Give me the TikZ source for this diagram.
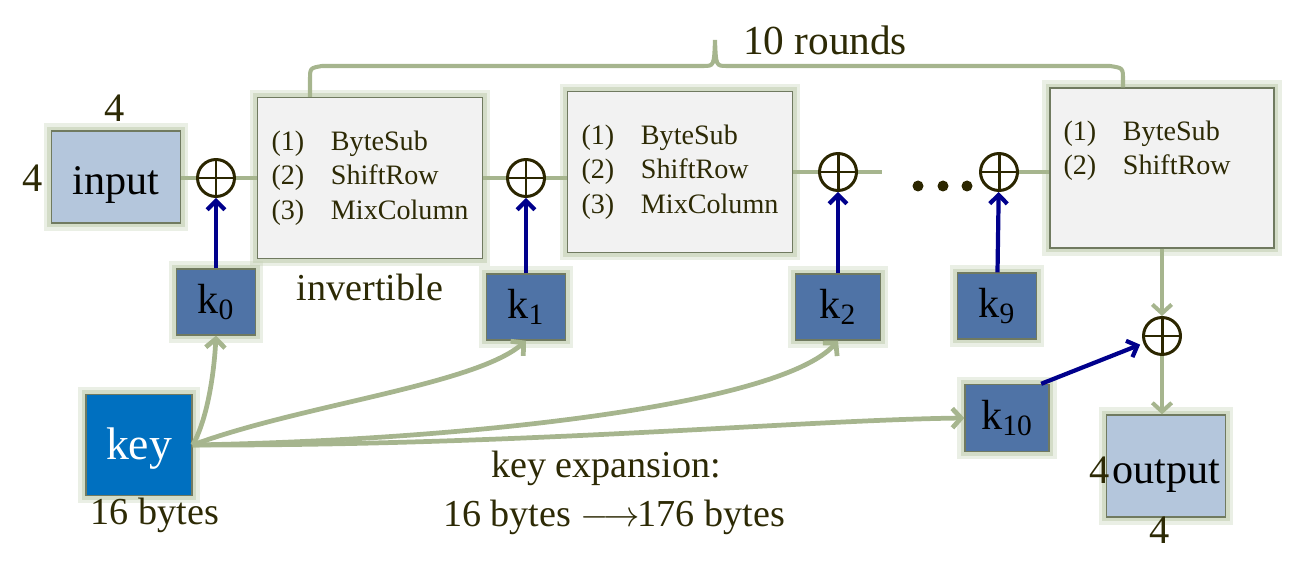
\documentclass[tikz,border=0pt]{standalone}
\usepackage{fontspec}
\setmainfont{Liberation Serif}
\usetikzlibrary{arrows.meta,calc}
\definecolor{sage}{RGB}{166,181,142}
\definecolor{glowc}{RGB}{196,208,180}
\definecolor{boxline}{RGB}{112,122,96}
\definecolor{inputfill}{RGB}{180,198,220}
\definecolor{kfill}{RGB}{79,115,166}
\definecolor{keyfill}{RGB}{0,112,192}
\definecolor{roundfill}{RGB}{242,242,242}
\definecolor{xorc}{RGB}{43,38,0}
\definecolor{textc}{RGB}{45,42,5}
\definecolor{navy}{RGB}{0,0,140}

\begin{document}
\begin{tikzpicture}[x=0.02cm, y=-0.02cm, big/.style={font=\fontsize{21.7}{26}\selectfont}]
		% Define styles
		\tikzstyle{glow}=[preaction={draw=glowc, line width=9pt, opacity=0.35}, preaction={draw=glowc, line width=5pt, opacity=0.6}]
		\tikzstyle{state}=[draw=boxline, line width=0.8pt, fill=inputfill, glow, inner sep=0pt, text height=20pt, text depth=0pt, font=\fontsize{24}{28}\selectfont]
		\tikzstyle{roundbox}=[draw=boxline, line width=0.8pt, fill=roundfill, glow, minimum width=4.5cm, minimum height=3.22cm, inner sep=0pt, text=textc, font=\fontsize{16}{19.5}\selectfont]
		\tikzstyle{subkey}=[draw=boxline, line width=0.8pt, fill=kfill, glow, minimum width=1.58cm, minimum height=1.32cm, inner sep=0pt, font=\fontsize{24}{28}\selectfont]
		\tikzstyle{xor}=[circle, draw=xorc, line width=1.7pt, minimum size=0.74cm, inner sep=0pt, path picture={\draw[xorc, line width=1.7pt] (path picture bounding box.north) -- (path picture bounding box.south) (path picture bounding box.west) -- (path picture bounding box.east);}]
		\tikzstyle{flow}=[draw=sage, line width=2.3pt]
		\tikzstyle{keyflow}=[draw=sage, line width=2.7pt, -{Straight Barb[length=5pt,width=11pt]}]
		\tikzstyle{feed}=[draw=navy, line width=2.4pt, -{Straight Barb[length=5pt,width=10pt]}]
		\tikzstyle{note}=[text=textc, big]
		
		\useasboundingbox (0,0) rectangle (1292,574);
		
		% Input and first key addition
		\node[state, minimum width=2.58cm, minimum height=1.84cm] (input) at (116,177) {input};
		\node[note, font=\fontsize{23}{27}\selectfont] (inw) at (115,108) {4};
		\node[note, font=\fontsize{23}{27}\selectfont] (inh) at (33,178) {4};
		\node[xor] (x0) at (216,178) {};
		\node[subkey] (k0) at (216,302) {k\textsubscript{0}};
		
		% Rounds
		\node[roundbox] (r1) at (370,178) {\begin{tabular}{@{}l@{\hspace{0.95em}}l@{}}(1) & ByteSub\\ (2) & ShiftRow\\ (3) & MixColumn\end{tabular}};
		\node[note] (inv) at (370,287) {invertible};
		\node[xor] (x1) at (526,178) {};
		\node[subkey] (k1) at (526,307) {k\textsubscript{1}};
		\node[roundbox] (r2) at (680,172) {\begin{tabular}{@{}l@{\hspace{0.95em}}l@{}}(1) & ByteSub\\ (2) & ShiftRow\\ (3) & MixColumn\end{tabular}};
		\node[xor] (x2) at (838,172) {};
		\node[subkey, minimum width=1.7cm] (k2) at (838,307) {k\textsubscript{2}};
		\coordinate (gap) at (882,172);
		\foreach \dx in {918,943,967}
			\fill[xorc] (\dx,186) circle (5.5);
		\node[xor] (x9) at (999,172) {};
		\node[subkey] (k9) at (997,306) {k\textsubscript{9}};
		\node[roundbox, minimum width=4.48cm, minimum height=3.2cm] (r10) at (1162,168) {\begin{tabular}{@{}l@{\hspace{0.95em}}l@{}}(1) & ByteSub\\ (2) & ShiftRow\\ & \phantom{MixColumn}\end{tabular}};
		
		% Output
		\node[xor] (xo) at (1162,336) {};
		\node[subkey, minimum width=1.68cm, minimum height=1.34cm] (k10) at (1007,418) {k\textsubscript{10}};
		\node[state, minimum width=2.38cm, minimum height=2.04cm] (output) at (1166,466) {output};
		\node[note, font=\fontsize{23}{27}\selectfont] (outh) at (1100,470) {4};
		\node[note, font=\fontsize{23}{27}\selectfont] (outw) at (1160,530) {4};
		
		% Key
		\node[state, fill=keyfill, text=white, text height=17pt, minimum width=2.12cm, minimum height=2.02cm, font=\fontsize{26}{30}\selectfont] (key) at (139,445) {key};
		\node[note] (keysz) at (155,515) {16 bytes};
		\node[note] (exp1) at (606,468) {key expansion:};
		\node[note] (exp2) at (614,517) {16 bytes $\longrightarrow$\kern-1pt176 bytes};
		
		% Data path
		\draw[flow] (input.east |- x0) -- (x0);
		\draw[flow] (x0) -- (x0 -| r1.west);
		\draw[flow] (x1 -| r1.east) -- (x1);
		\draw[flow] (x1) -- (x1 -| r2.west);
		\draw[flow] (x2 -| r2.east) -- (x2);
		\draw[flow] (x2) -- (gap);
		\draw[flow] (x9) -- (x9 -| r10.west);
		\draw[flow, -{Straight Barb[length=5pt,width=11pt]}] (r10.south -| xo) -- (xo);
		\draw[flow, -{Straight Barb[length=5pt,width=11pt]}] (xo) -- (xo |- output.north);
		
		% Round keys into the additions
		\draw[feed] (k0) -- (x0);
		\draw[feed] (k1) -- (x1);
		\draw[feed] (k2) -- (x2);
		\draw[feed] (k9) -- (x9);
		\draw[feed, shorten >=2pt] (k10.45) -- (xo);
		
		% Key expansion
		\draw[keyflow] (key.east) .. controls (207,420) and (214,375) .. (k0.south);
		\draw[keyflow] (key.east) .. controls (300,405) and (475,385) .. (k1.south);
		\draw[keyflow] (key.east) .. controls (470,440) and (780,405) .. (k2.south);
		\draw[keyflow] (key.east) .. controls (520,446) and (800,420) .. (k10.west);
		
		% Brace over the 10 rounds
		\draw[flow] (310,97) -- (310,80) .. controls (310,68) .. (322,66) -- (703,66) .. controls (714,66) .. (715,40) .. controls (716,66) .. (727,66) -- (1110,66) .. controls (1123,68) .. (1123,80) -- (r10.north -| 1123,0);
		\node[note, font=\fontsize{23.5}{27}\selectfont] (rounds) at (825,40) {10 rounds};
		
	\end{tikzpicture}
\end{document}
